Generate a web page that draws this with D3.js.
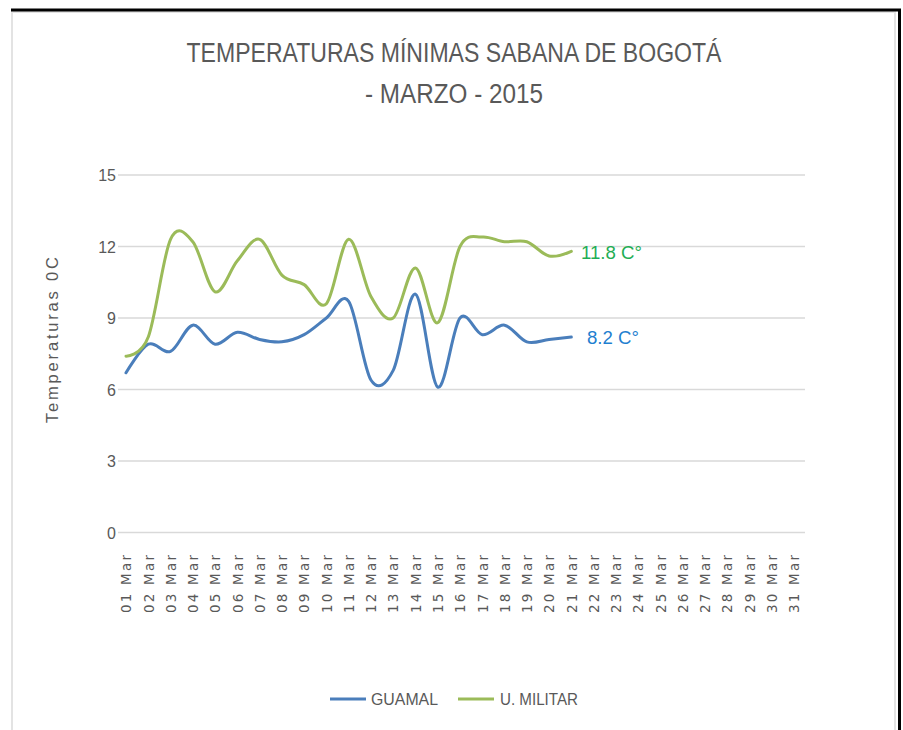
<!DOCTYPE html>
<html>
<head>
<meta charset="utf-8">
<script src="https://cdn.jsdelivr.net/npm/d3@7"></script>
<style>
  html, body { margin: 0; padding: 0; background: #fff; }
  svg { display: block; }
</style>
</head>
<body>
<svg id="chart" width="903" height="730"></svg>
<script>
// ---- data ----
const days = d3.range(1, 32).map(d => (d < 10 ? "0" + d : "" + d) + " Mar");
const guamal = [6.7, 7.9, 7.6, 8.7, 7.9, 8.4, 8.1, 8.0, 8.3, 9.0, 9.7, 6.4, 6.8, 10.0, 6.1, 9.0, 8.3, 8.7, 8.0, 8.1, 8.2];
const militar = [7.4, 8.2, 12.3, 12.2, 10.1, 11.4, 12.3, 10.8, 10.4, 9.6, 12.3, 9.9, 9.0, 11.1, 8.8, 12.0, 12.4, 12.2, 12.2, 11.6, 11.8];
const yTicks = [0, 3, 6, 9, 12, 15];
const seriesNames = ["GUAMAL", "U. MILITAR"];
const titleLines = ["TEMPERATURAS MÍNIMAS SABANA DE BOGOTÁ", "- MARZO - 2015"];
const endLabels = ["8.2  C°", "11.8 C°"];

const colors = ["#4a7ebb", "#9bbb59"];
const labelColors = ["#1f7fd0", "#1fae55"];
const narrow = "'Liberation Sans Narrow', 'Arial Narrow', 'Liberation Sans', sans-serif";
const gray = "#595959";

const svg = d3.select("#chart");

// frame
svg.append("rect").attr("x", 12).attr("y", 12).attr("width", 883).attr("height", 730)
  .attr("fill", "#fff").attr("stroke", "#e3e3e3").attr("stroke-width", 2);
svg.append("line").attr("x1", 11).attr("x2", 901).attr("y1", 10).attr("y2", 10)
  .attr("stroke", "#000").attr("stroke-width", 3);
svg.append("line").attr("x1", 899.5).attr("x2", 899.5).attr("y1", 9).attr("y2", 730)
  .attr("stroke", "#000").attr("stroke-width", 3);

// scales
const x = d3.scalePoint().domain(days).range([126, 794]);
const y = d3.scaleLinear().domain([0, 15]).range([532.5, 175]);

// title
svg.append("text").attr("x", 454).attr("y", 62).attr("text-anchor", "middle")
  .attr("font-family", narrow).attr("font-size", 27).attr("fill", gray)
  .attr("textLength", 535).attr("lengthAdjust", "spacingAndGlyphs")
  .text(titleLines[0]);
svg.append("text").attr("x", 454).attr("y", 103).attr("text-anchor", "middle")
  .attr("font-family", narrow).attr("font-size", 27).attr("fill", gray)
  .attr("textLength", 178).attr("lengthAdjust", "spacingAndGlyphs")
  .text(titleLines[1]);

// gridlines
svg.append("g").selectAll("line").data(yTicks).join("line")
  .attr("x1", 118).attr("x2", 805)
  .attr("y1", d => y(d)).attr("y2", d => y(d))
  .attr("stroke", "#d9d9d9").attr("stroke-width", 1.3);

// y axis
const yAxis = d3.axisLeft(y).tickValues(yTicks).tickSize(0).tickPadding(0);
const gy = svg.append("g").attr("transform", "translate(116,0)").call(yAxis);
gy.select(".domain").remove();
gy.selectAll("text").attr("font-family", narrow).attr("font-size", 16).attr("fill", gray)
  .attr("dy", "0.35em");

// x axis
const xAxis = d3.axisBottom(x).tickSize(0).tickPadding(0);
const gx = svg.append("g").attr("transform", "translate(0,550)").call(xAxis);
gx.select(".domain").remove();
gx.selectAll("text")
  .attr("font-family", "'DejaVu Sans', Verdana, sans-serif").attr("font-size", 13.5)
  .attr("fill", gray)
  .attr("text-anchor", "end")
  .attr("transform", "rotate(-90)")
  .attr("x", -5).attr("y", 0).attr("dy", "0.35em")
  .attr("textLength", 58).attr("lengthAdjust", "spacing");

// y label
svg.append("text").attr("transform", "translate(58,340) rotate(-90)")
  .attr("text-anchor", "middle").attr("font-family", "'Liberation Sans', sans-serif")
  .attr("font-size", 16.5).attr("fill", gray)
  .attr("textLength", 166).attr("lengthAdjust", "spacing")
  .text("Temperaturas  0C");

// lines
const line = d3.line()
  .x((d, i) => x(days[i]))
  .y(d => y(d))
  .curve(d3.curveCardinal.tension(0));

[guamal, militar].forEach((s, k) => {
  svg.append("path").datum(s).attr("d", line)
    .attr("fill", "none").attr("stroke", colors[k]).attr("stroke-width", 3)
    .attr("stroke-linecap", "round").attr("stroke-linejoin", "round");
});

// end labels
const endX = [587, 581];
const endW = [52, 61];
[guamal, militar].forEach((s, k) => {
  svg.append("text").attr("x", endX[k]).attr("y", y(s[s.length - 1]) + 1)
    .attr("dy", "0.35em")
    .attr("font-family", narrow).attr("font-size", 18).attr("fill", labelColors[k])
    .attr("textLength", endW[k]).attr("lengthAdjust", "spacingAndGlyphs")
    .text(endLabels[k]);
});

// legend
const legX = [330, 458];
const legTX = [371, 500];
const legTW = [67, 78];
seriesNames.forEach((n, k) => {
  svg.append("line").attr("x1", legX[k]).attr("x2", legX[k] + 36)
    .attr("y1", 699).attr("y2", 699)
    .attr("stroke", colors[k]).attr("stroke-width", 3);
  svg.append("text").attr("x", legTX[k]).attr("y", 699).attr("dy", "0.35em")
    .attr("font-family", narrow).attr("font-size", 16).attr("fill", gray)
    .attr("textLength", legTW[k]).attr("lengthAdjust", "spacingAndGlyphs")
    .text(n);
});
</script>
</body>
</html>
